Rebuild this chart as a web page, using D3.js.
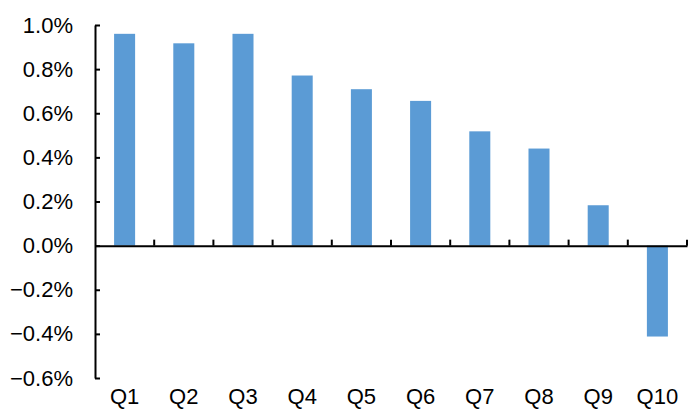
<!DOCTYPE html>
<html>
<head>
<meta charset="utf-8">
<script src="https://cdn.jsdelivr.net/npm/d3@7"></script>
<style>
  body { margin: 0; background: #fff; }
  text { font-family: "Liberation Sans", Arial, sans-serif; fill: #000; }
</style>
</head>
<body>
<script>
// data
const categories = ["Q1", "Q2", "Q3", "Q4", "Q5", "Q6", "Q7", "Q8", "Q9", "Q10"];
const values = [0.960, 0.917, 0.960, 0.771, 0.709, 0.656, 0.518, 0.440, 0.183, -0.412];
const yTicks = [-0.6, -0.4, -0.2, 0.0, 0.2, 0.4, 0.6, 0.8, 1.0];

const width = 699, height = 417;
const mLeft = 95, mRight = 687, mTop = 25, mBottom = 378;

const svg = d3.select("body").append("svg")
  .attr("width", width)
  .attr("height", height);

const x = d3.scaleBand().domain(categories).range([mLeft, mRight]).paddingInner(0.645).paddingOuter(0.3225);
const y = d3.scaleLinear().domain([-0.6, 1.0]).range([mBottom, mTop]);

// bars
svg.selectAll(".bar")
  .data(values)
  .enter()
  .append("rect")
  .attr("class", "bar")
  .attr("x", (d, i) => x(categories[i]))
  .attr("width", x.bandwidth())
  .attr("y", d => y(Math.max(0, d)))
  .attr("height", d => Math.abs(y(d) - y(0)))
  .attr("fill", "#5B9BD5");

// y axis
const yAxis = svg.append("g")
  .attr("transform", "translate(" + mLeft + ",0)")
  .call(d3.axisLeft(y).tickValues(yTicks).tickSizeInner(-5).tickSizeOuter(0)
    .tickFormat(d => d3.format(".1f")(d) + "%"));
yAxis.select(".domain").attr("stroke", "#000").attr("stroke-width", 2);
yAxis.selectAll(".tick line").attr("stroke", "#000").attr("stroke-width", 2);
yAxis.selectAll(".tick text").attr("x", -22).attr("font-size", 22).attr("font-family", null);

// x axis at zero
const xAxis = svg.append("g")
  .attr("transform", "translate(0," + y(0) + ")")
  .call(d3.axisBottom(x).tickSize(0).tickFormat(""));
xAxis.select(".domain").attr("stroke", "#000").attr("stroke-width", 2);
xAxis.selectAll(".tick").remove();

// category boundary ticks
const step = (mRight - mLeft) / categories.length;
xAxis.selectAll(".sep")
  .data(d3.range(1, categories.length + 1))
  .enter()
  .append("line")
  .attr("x1", i => mLeft + i * step)
  .attr("x2", i => mLeft + i * step)
  .attr("y1", 0)
  .attr("y2", -6)
  .attr("stroke", "#000")
  .attr("stroke-width", 2);

// category labels at bottom
svg.selectAll(".xlabel")
  .data(categories)
  .enter()
  .append("text")
  .attr("class", "xlabel")
  .attr("x", d => x(d) + x.bandwidth() / 2)
  .attr("y", 404)
  .attr("text-anchor", "middle")
  .attr("font-size", 22)
  .text(d => d);
</script>
</body>
</html>
